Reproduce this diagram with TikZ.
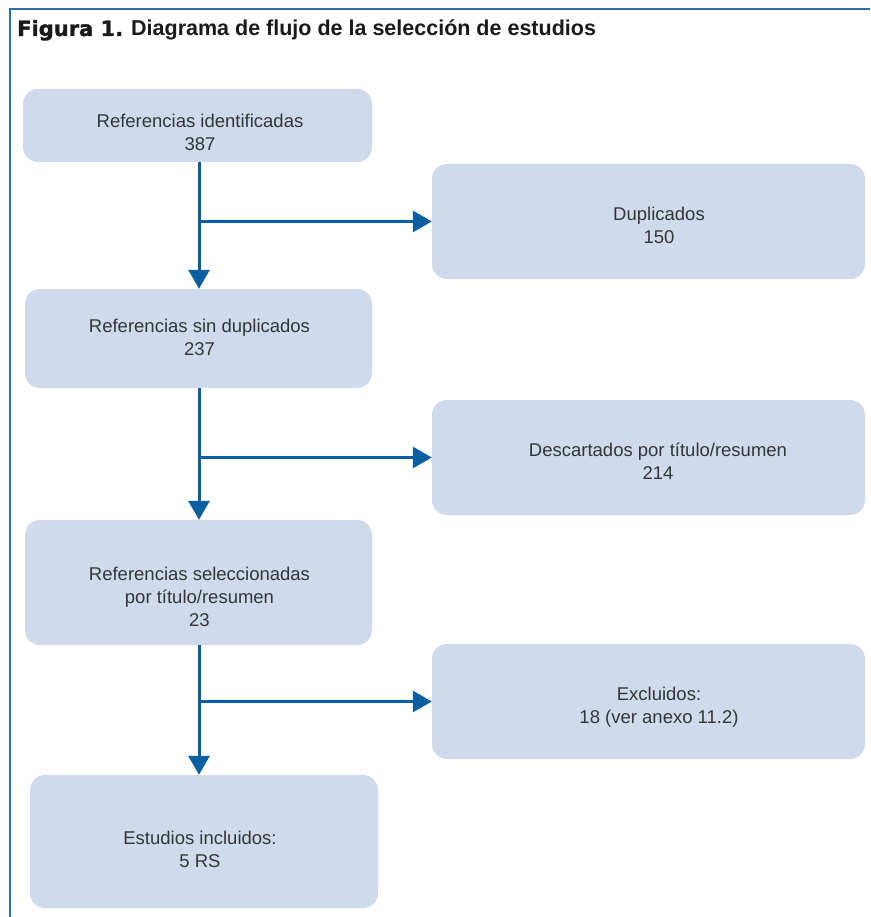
\documentclass[tikz,border=0pt]{standalone}
\usepackage{fontspec}
\setmainfont{Liberation Sans}
\newfontfamily\heavyfont[BoldFeatures={FakeBold=1.6}]{DejaVu Sans}
\usetikzlibrary{arrows.meta}
\definecolor{boxfill}{HTML}{CFDBED}
\definecolor{arrowblue}{HTML}{0A5FA3}
\definecolor{frameblue}{HTML}{2C6DAA}
\definecolor{txtgray}{HTML}{353535}
\definecolor{titleblack}{HTML}{1A1A1A}
\begin{document}
\begin{tikzpicture}[x=1pt,y=-1pt,
  box/.style={fill=boxfill, rounded corners=15pt, draw=none, inner sep=0pt},
  txt/.style={text=txtgray, align=center, font=\fontsize{18.5}{23}\selectfont, inner sep=0pt},
  flow/.style={draw=arrowblue, line width=3pt, -{Triangle[width=21pt,length=19pt]}}]
\useasboundingbox (0,0) rectangle (870,917);
\fill[white] (0,0) rectangle (870,917);
\draw[frameblue, line width=2pt] (870,9) -- (10,9) -- (10,917);

% title
\node[anchor=base west, inner sep=0pt, text=titleblack,
      font=\heavyfont\bfseries\fontsize{21}{25}\selectfont] (fig) at (17,36) {Figura 1.};
\node[anchor=base west, inner sep=0pt, text=titleblack,
      font=\bfseries\fontsize{21.5}{25}\selectfont] (ttl) at (131,36) {Diagrama de flujo de la selección de estudios};

% left column boxes
\node[box, minimum width=349pt, minimum height=73pt]  (b1) at (197.5,125.5) {};
\node[box, minimum width=347pt, minimum height=99pt]  (b2) at (198.5,338.5) {};
\node[box, minimum width=347pt, minimum height=125pt] (b3) at (198.5,582.5) {};
\node[box, minimum width=348pt, minimum height=133pt] (b4) at (204,841.5) {};

% right column boxes
\node[box, minimum width=433pt, minimum height=115pt] (dup)  at (648.5,221.5) {};
\node[box, minimum width=433pt, minimum height=115pt] (desc) at (648.5,457.5) {};
\node[box, minimum width=433pt, minimum height=115pt] (excl) at (648.5,701.5) {};

% texts
\node[txt] (t1) at (200,132.5) {Referencias identificadas\\387};
\node[txt] (t2) at (199.5,337) {Referencias sin duplicados\\237};
\node[txt] (t3) at (199.5,597) {Referencias seleccionadas\\por título/resumen\\23};
\node[txt] (t4) at (200,849) {Estudios incluidos:\\5 RS};
\node[txt] (td) at (659,225.5) {Duplicados\\150};
\node[txt] (te) at (658,461) {Descartados por título/resumen\\214};
\node[txt] (tx) at (659,707) {Excluidos:\\18 (ver anexo 11.2)};

% branch points
\coordinate (c1) at (199,221.5);
\coordinate (c2) at (199,457.5);
\coordinate (c3) at (199,701.5);

% connectors
\draw[flow] (b1.south -| c1) -- (b2.north -| c1);
\draw[flow] (c1) -- (dup.west);
\draw[flow] (b2.south -| c2) -- (b3.north -| c2);
\draw[flow] (c2) -- (desc.west);
\draw[flow] (b3.south -| c3) -- (b4.north -| c3);
\draw[flow] (c3) -- (excl.west);
\end{tikzpicture}
\end{document}
